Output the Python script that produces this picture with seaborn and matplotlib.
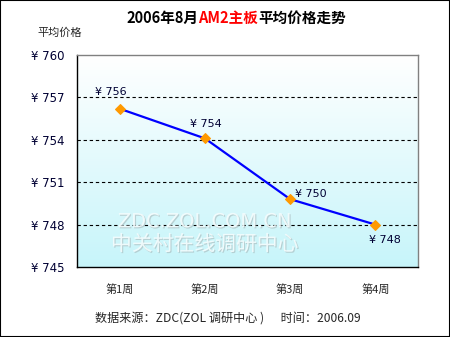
import numpy as np
import pandas as pd
import seaborn as sns
import matplotlib
matplotlib.use("Agg")
import matplotlib.pyplot as plt
from matplotlib.patches import Rectangle
import matplotlib.patheffects as pe

weeks = ["第1周", "第2周", "第3周", "第4周"]
prices = [756.2, 754.1, 749.8, 748.0]
price_labels = ["¥ 756", "¥ 754", "¥ 750", "¥ 748"]
yticks = [745, 748, 751, 754, 757, 760]

sns.set_theme(style="white")
plt.rcParams['font.family'] = ['Noto Sans CJK SC', 'DejaVu Sans']

df = pd.DataFrame({"week": weeks, "price": prices})
df["x"] = np.arange(1, len(weeks) + 1)

fig = plt.figure(figsize=(4.5, 3.37), dpi=100)
fig.patch.set_facecolor("white")
ax = fig.add_axes([77/450, 1-267/337, (418-77)/450, (267-55)/337])

# gradient background
grad = np.linspace(0, 1, 256).reshape(-1, 1)
top = np.array([1.0, 1.0, 1.0])
bot = np.array([0.78, 0.96, 0.98])
img = top[None, None, :] * (1 - grad[:, :, None]) + bot[None, None, :] * grad[:, :, None]
ax.imshow(img, extent=[0.5, 4.5, 745, 760], aspect="auto", origin="upper", zorder=0)

for yv in yticks[1:-1]:
    ax.axhline(yv, color="black", lw=0.8, ls=(0, (3, 2.5)), zorder=1)

sns.lineplot(data=df, x="x", y="price", ax=ax, color="#0000ff", lw=1.6,
             marker="D", markersize=5.5, markerfacecolor="#ff9900",
             markeredgecolor="#ff9900", zorder=3)

offsets = [(-6.5, 12), (0.5, 10), (15, 3.5), (7, -11)]
for xi, yi, lab, off in zip(df["x"], prices, price_labels, offsets):
    ax.annotate(lab, (xi, yi), xytext=off, textcoords="offset points",
                ha="center", va="center", fontsize=8, color="#000033",
                family=['DejaVu Sans'], zorder=4)

# watermark
wm_fx = [pe.withSimplePatchShadow(offset=(0.8, -0.8), shadow_rgbFace="#a8b8ba", alpha=0.6)]
ax.text(2.0, 748.2, "ZDC.ZOL.COM.CN", ha="center", va="center", fontsize=14,
        color="#f4fcfd", alpha=0.9, zorder=2, family=['DejaVu Sans'], path_effects=wm_fx)
ax.text(2.0, 746.6, "中关村在线调研中心", ha="center", va="center", fontsize=15,
        color="#f4fcfd", alpha=0.9, zorder=2, path_effects=wm_fx)

ax.set_xlim(0.5, 4.5)
ax.set_ylim(745, 760)
ax.set_yticks(yticks)
ax.set_yticklabels(["¥ " + str(v) for v in yticks], fontsize=8.5, color="#000033",
                   family=['DejaVu Sans'])
ax.set_xticks(df["x"])
ax.set_xticklabels(weeks, fontsize=8)
ax.set_xticks([1.5, 2.5, 3.5], minor=True)
ax.tick_params(axis="x", which="major", length=0, pad=12)
ax.tick_params(axis="x", which="minor", length=4, direction="in", color="black", width=0.8)
ax.tick_params(axis="y", which="major", length=0, pad=9)
ax.set_xlabel("")
ax.set_ylabel("")
for s in ax.spines.values():
    s.set_color("#808080")
    s.set_linewidth(1)
ax.spines["bottom"].set_color("black")
ax.spines["left"].set_color("black")

# title in three coloured pieces
renderer = fig.canvas.get_renderer()
parts = [("2006年8月", "black"), ("AM2主板", "#ff0000"), ("平均价格走势", "black")]
widths = []
tmp = []
for txt, col in parts:
    tt = fig.text(0, 0, txt, fontsize=10.5, weight="bold")
    widths.append(tt.get_window_extent(renderer=renderer).width / 450)
    tmp.append(tt)
for tt in tmp:
    tt.remove()
xcur = 0.525 - sum(widths) / 2
for (txt, col), w in zip(parts, widths):
    fig.text(xcur, 1-18/337, txt, ha="left", va="center", fontsize=10.5,
             weight="bold", color=col)
    xcur += w

fig.text(37/450, 1-33/337, "平均价格", ha="left", va="center", fontsize=8)
fig.text(95/450, 1-318/337, "数据来源：ZDC(ZOL 调研中心 )      时间：2006.09",
         ha="left", va="center", fontsize=8.7)

fig.add_artist(Rectangle((0, 0), 1, 1, transform=fig.transFigure, fill=False,
                         edgecolor="black", lw=1.5))

fig.savefig("out.png", dpi=100)
